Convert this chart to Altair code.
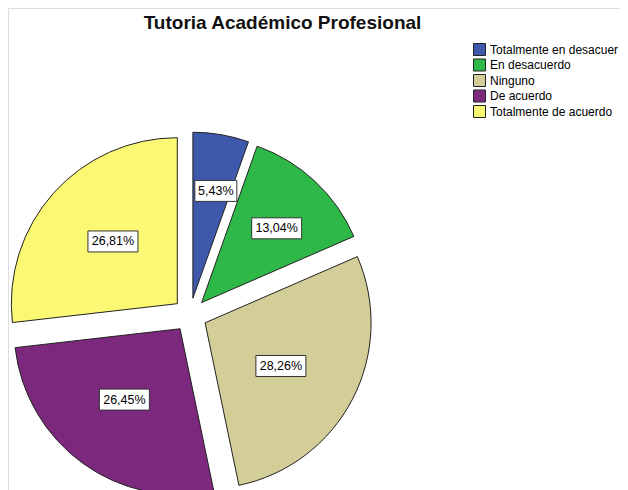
import altair as alt
import pandas as pd

# ---- data ----
categories = ["Totalmente en desacuer", "En desacuerdo", "Ninguno", "De acuerdo", "Totalmente de acuerdo"]
percentages = [5.43, 13.04, 28.26, 26.45, 26.81]
colors = ["#3E58AC", "#2EB848", "#D3CE97", "#7C287D", "#FBF873"]
title_text = "Tutoria Académico Profesional"

# ---- layout constants (pixels inside the view) ----
CX, CY = 182, 307      # pie centre
R = 166                # radius
D = 17                 # explode distance
FONT = "Liberation Sans"

df = pd.DataFrame({"cat": categories, "pct": percentages, "order": list(range(len(categories)))})

base = (
    alt.Chart(df)
    .transform_window(cum="sum(pct)", sort=[alt.SortField("order")], frame=[None, 0])
    .transform_joinaggregate(total="sum(pct)")
    .transform_calculate(
        t0="2*PI*(datum.cum - datum.pct)/datum.total",
        t1="2*PI*datum.cum/datum.total",
    )
    .transform_calculate(
        mid="(datum.t0 + datum.t1)/2",
        half="(datum.t1 - datum.t0)/2",
    )
    .transform_calculate(
        ox=f"{CX} + {D}*sin(datum.mid)",
        oy=f"{CY} - {D}*cos(datum.mid)",
        cdist=f"2*{R}*sin(datum.half)/(3*datum.half) - 12*datum.half*datum.half",
        label="replace(format(datum.pct, '.2f'), '.', ',') + '%'",
    )
    .transform_calculate(
        lx="datum.ox + datum.cdist*sin(datum.mid + 0.04)",
        ly="datum.oy - datum.cdist*cos(datum.mid + 0.04)",
        bw="8*length(datum.label) + 2",
    )
    .transform_calculate(
        bx0="datum.lx - datum.bw/2",
        bx1="datum.lx + datum.bw/2",
        by0="datum.ly - 10.5",
        by1="datum.ly + 10.5",
    )
)

arcs = base.mark_arc(radius=R, stroke="#222222", strokeWidth=1).encode(
    x=alt.X("ox:Q", scale=None, axis=None),
    y=alt.Y("oy:Q", scale=None, axis=None),
    theta=alt.Theta("t0:Q", scale=None, stack=None),
    theta2="t1:Q",
    color=alt.Color(
        "cat:N",
        sort=categories,
        scale=alt.Scale(domain=categories, range=colors),
        legend=alt.Legend(
            title=None,
            orient="none",
            legendX=465,
            legendY=35,
            symbolType="square",
            symbolSize=144,
            symbolStrokeColor="#222222",
            symbolStrokeWidth=1,
            symbolOpacity=1,
            labelFontSize=12,
            labelFont=FONT,
            labelColor="black",
            labelOffset=4,
            labelLimit=400,
            rowPadding=-1.5,
            padding=0,
            offset=0,
        ),
    ),
)

boxes = base.mark_rect(fill="white", stroke="#333333", strokeWidth=1).encode(
    x=alt.X("bx0:Q", scale=None, axis=None),
    x2="bx1:Q",
    y=alt.Y("by0:Q", scale=None, axis=None),
    y2="by1:Q",
)

labels = base.mark_text(font=FONT, fontSize=12.5, color="black", align="center", baseline="middle").encode(
    x=alt.X("lx:Q", scale=None, axis=None),
    y=alt.Y("ly:Q", scale=None, axis=None),
    text="label:N",
)

title = alt.Chart(pd.DataFrame({"t": [title_text]})).mark_text(
    font=FONT, fontSize=19, fontWeight="bold", color="#111111", align="center", baseline="alphabetic"
).encode(x=alt.value(274.5), y=alt.value(21), text="t:N")

chart = (
    alt.layer(arcs, boxes, labels, title)
    .properties(width=612, height=482, autosize=alt.AutoSizeParams(type="none"), padding=0)
    .configure_view(stroke="transparent", strokeWidth=0)
    .configure(background="transparent")
)

chart.save("out.html", embed_options={"renderer": "svg", "actions": False})
